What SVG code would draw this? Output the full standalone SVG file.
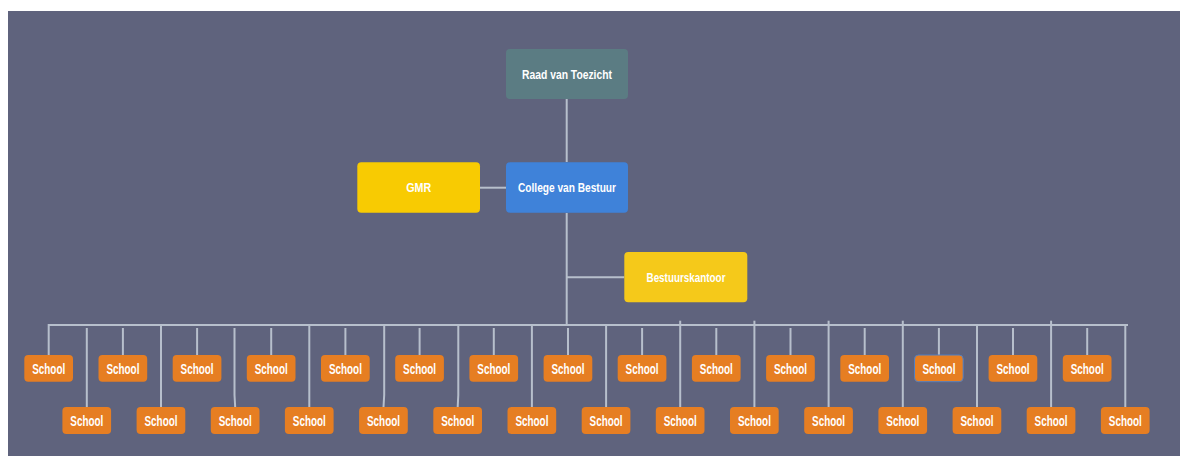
<svg xmlns="http://www.w3.org/2000/svg" width="1187" height="456" viewBox="0 0 1187 456">
<style>
.bg{fill:#5f637d}
.box{rx:4;ry:4}
.raad{fill:#5b7c83}
.cvb{fill:#3f82d9}
.gmr{fill:#f8cb02}
.bk{fill:#f5c91a}
.sch{fill:#e67e22}
.lbl{font-family:"Liberation Sans",Arial,sans-serif;font-weight:bold;fill:#ffffff;text-anchor:middle}
.big{font-size:13.5px}
.small{font-size:14px}
.conn path{stroke:#b7bfcc;stroke-width:2;fill:none}
</style>
<rect x="0" y="0" width="1187" height="456" fill="#ffffff"/>
<rect class="bg" x="8" y="11" width="1172" height="445"/>
<g id="connectors" class="conn">
<path d="M566.7 99 V162"/>
<path d="M480 187.7 H506"/>
<path d="M566.7 213 V325"/>
<path d="M566.7 277.3 H624.3"/>
<path d="M48.7 355 V325 H1128"/>
<path d="M122.9 328 V355"/>
<path d="M197.1 328 V355"/>
<path d="M271.2 328 V355"/>
<path d="M345.4 328 V355"/>
<path d="M419.6 328 V355"/>
<path d="M493.8 328 V355"/>
<path d="M568.0 328 V355"/>
<path d="M642.1 328 V355"/>
<path d="M716.3 328 V355"/>
<path d="M790.5 328 V355"/>
<path d="M864.7 328 V355"/>
<path d="M938.9 328 V355"/>
<path d="M1013.0 328 V355"/>
<path d="M1087.2 328 V355"/>
<path d="M86.8 328 V407"/>
<path d="M161.0 325 V407"/>
<path d="M234.5 328 V395 L235.2 407"/>
<path d="M309.3 325 V407"/>
<path d="M384.2 325 V395 L383.5 407"/>
<path d="M458.3 325 V395 L457.7 407"/>
<path d="M531.9 325 V407"/>
<path d="M606.1 325 V407"/>
<path d="M680.2 320.7 V407"/>
<path d="M754.4 320.7 V407"/>
<path d="M828.6 320.7 V407"/>
<path d="M902.8 320.7 V407"/>
<path d="M977.0 325 V407"/>
<path d="M1051.1 320.7 V407"/>
<path d="M1125.3 325 V407"/>
</g>
<g id="raad"><rect class="box raad" x="506" y="49" width="122" height="50"/><text class="lbl big" x="567" y="79" textLength="90" lengthAdjust="spacingAndGlyphs">Raad van Toezicht</text></g>
<g id="cvb"><rect class="box cvb" x="506" y="162.3" width="122" height="50.4"/><text class="lbl big" x="567" y="192.3" textLength="98" lengthAdjust="spacingAndGlyphs">College van Bestuur</text></g>
<g id="gmr"><rect class="box gmr" x="357.3" y="162.3" width="122.7" height="50.4"/><text class="lbl big" x="418.7" y="192.3" textLength="25" lengthAdjust="spacingAndGlyphs">GMR</text></g>
<g id="bk"><rect class="box bk" x="624.3" y="252" width="123" height="50.3"/><text class="lbl big" x="686" y="282" textLength="79" lengthAdjust="spacingAndGlyphs">Bestuurskantoor</text></g>
<g id="school-t1"><rect class="box sch" x="24.3" y="355" width="48.7" height="26.7" rx="3"/><text class="lbl small" x="48.7" y="373.5" textLength="33" lengthAdjust="spacingAndGlyphs">School</text></g>
<g id="school-t2"><rect class="box sch" x="98.5" y="355" width="48.7" height="26.7" rx="3"/><text class="lbl small" x="122.9" y="373.5" textLength="33" lengthAdjust="spacingAndGlyphs">School</text></g>
<g id="school-t3"><rect class="box sch" x="172.7" y="355" width="48.7" height="26.7" rx="3"/><text class="lbl small" x="197.1" y="373.5" textLength="33" lengthAdjust="spacingAndGlyphs">School</text></g>
<g id="school-t4"><rect class="box sch" x="246.8" y="355" width="48.7" height="26.7" rx="3"/><text class="lbl small" x="271.2" y="373.5" textLength="33" lengthAdjust="spacingAndGlyphs">School</text></g>
<g id="school-t5"><rect class="box sch" x="321.0" y="355" width="48.7" height="26.7" rx="3"/><text class="lbl small" x="345.4" y="373.5" textLength="33" lengthAdjust="spacingAndGlyphs">School</text></g>
<g id="school-t6"><rect class="box sch" x="395.2" y="355" width="48.7" height="26.7" rx="3"/><text class="lbl small" x="419.6" y="373.5" textLength="33" lengthAdjust="spacingAndGlyphs">School</text></g>
<g id="school-t7"><rect class="box sch" x="469.4" y="355" width="48.7" height="26.7" rx="3"/><text class="lbl small" x="493.8" y="373.5" textLength="33" lengthAdjust="spacingAndGlyphs">School</text></g>
<g id="school-t8"><rect class="box sch" x="543.6" y="355" width="48.7" height="26.7" rx="3"/><text class="lbl small" x="568.0" y="373.5" textLength="33" lengthAdjust="spacingAndGlyphs">School</text></g>
<g id="school-t9"><rect class="box sch" x="617.7" y="355" width="48.7" height="26.7" rx="3"/><text class="lbl small" x="642.1" y="373.5" textLength="33" lengthAdjust="spacingAndGlyphs">School</text></g>
<g id="school-t10"><rect class="box sch" x="691.9" y="355" width="48.7" height="26.7" rx="3"/><text class="lbl small" x="716.3" y="373.5" textLength="33" lengthAdjust="spacingAndGlyphs">School</text></g>
<g id="school-t11"><rect class="box sch" x="766.1" y="355" width="48.7" height="26.7" rx="3"/><text class="lbl small" x="790.5" y="373.5" textLength="33" lengthAdjust="spacingAndGlyphs">School</text></g>
<g id="school-t12"><rect class="box sch" x="840.3" y="355" width="48.7" height="26.7" rx="3"/><text class="lbl small" x="864.7" y="373.5" textLength="33" lengthAdjust="spacingAndGlyphs">School</text></g>
<g id="school-t13"><rect class="box sch" x="914.5" y="355" width="48.7" height="26.7" rx="3" stroke="#4f7fc4" stroke-width="1"/><text class="lbl small" x="938.9" y="373.5" textLength="33" lengthAdjust="spacingAndGlyphs">School</text></g>
<g id="school-t14"><rect class="box sch" x="988.6" y="355" width="48.7" height="26.7" rx="3"/><text class="lbl small" x="1013.0" y="373.5" textLength="33" lengthAdjust="spacingAndGlyphs">School</text></g>
<g id="school-t15"><rect class="box sch" x="1062.8" y="355" width="48.7" height="26.7" rx="3"/><text class="lbl small" x="1087.2" y="373.5" textLength="33" lengthAdjust="spacingAndGlyphs">School</text></g>
<g id="school-b1"><rect class="box sch" x="62.4" y="407" width="48.7" height="27" rx="3"/><text class="lbl small" x="86.8" y="425.7" textLength="33" lengthAdjust="spacingAndGlyphs">School</text></g>
<g id="school-b2"><rect class="box sch" x="136.6" y="407" width="48.7" height="27" rx="3"/><text class="lbl small" x="161.0" y="425.7" textLength="33" lengthAdjust="spacingAndGlyphs">School</text></g>
<g id="school-b3"><rect class="box sch" x="210.8" y="407" width="48.7" height="27" rx="3"/><text class="lbl small" x="235.2" y="425.7" textLength="33" lengthAdjust="spacingAndGlyphs">School</text></g>
<g id="school-b4"><rect class="box sch" x="284.9" y="407" width="48.7" height="27" rx="3"/><text class="lbl small" x="309.3" y="425.7" textLength="33" lengthAdjust="spacingAndGlyphs">School</text></g>
<g id="school-b5"><rect class="box sch" x="359.1" y="407" width="48.7" height="27" rx="3"/><text class="lbl small" x="383.5" y="425.7" textLength="33" lengthAdjust="spacingAndGlyphs">School</text></g>
<g id="school-b6"><rect class="box sch" x="433.3" y="407" width="48.7" height="27" rx="3"/><text class="lbl small" x="457.7" y="425.7" textLength="33" lengthAdjust="spacingAndGlyphs">School</text></g>
<g id="school-b7"><rect class="box sch" x="507.5" y="407" width="48.7" height="27" rx="3"/><text class="lbl small" x="531.9" y="425.7" textLength="33" lengthAdjust="spacingAndGlyphs">School</text></g>
<g id="school-b8"><rect class="box sch" x="581.7" y="407" width="48.7" height="27" rx="3"/><text class="lbl small" x="606.1" y="425.7" textLength="33" lengthAdjust="spacingAndGlyphs">School</text></g>
<g id="school-b9"><rect class="box sch" x="655.8" y="407" width="48.7" height="27" rx="3"/><text class="lbl small" x="680.2" y="425.7" textLength="33" lengthAdjust="spacingAndGlyphs">School</text></g>
<g id="school-b10"><rect class="box sch" x="730.0" y="407" width="48.7" height="27" rx="3"/><text class="lbl small" x="754.4" y="425.7" textLength="33" lengthAdjust="spacingAndGlyphs">School</text></g>
<g id="school-b11"><rect class="box sch" x="804.2" y="407" width="48.7" height="27" rx="3"/><text class="lbl small" x="828.6" y="425.7" textLength="33" lengthAdjust="spacingAndGlyphs">School</text></g>
<g id="school-b12"><rect class="box sch" x="878.4" y="407" width="48.7" height="27" rx="3"/><text class="lbl small" x="902.8" y="425.7" textLength="33" lengthAdjust="spacingAndGlyphs">School</text></g>
<g id="school-b13"><rect class="box sch" x="952.6" y="407" width="48.7" height="27" rx="3"/><text class="lbl small" x="977.0" y="425.7" textLength="33" lengthAdjust="spacingAndGlyphs">School</text></g>
<g id="school-b14"><rect class="box sch" x="1026.7" y="407" width="48.7" height="27" rx="3"/><text class="lbl small" x="1051.1" y="425.7" textLength="33" lengthAdjust="spacingAndGlyphs">School</text></g>
<g id="school-b15"><rect class="box sch" x="1100.9" y="407" width="48.7" height="27" rx="3"/><text class="lbl small" x="1125.3" y="425.7" textLength="33" lengthAdjust="spacingAndGlyphs">School</text></g>
</svg>
